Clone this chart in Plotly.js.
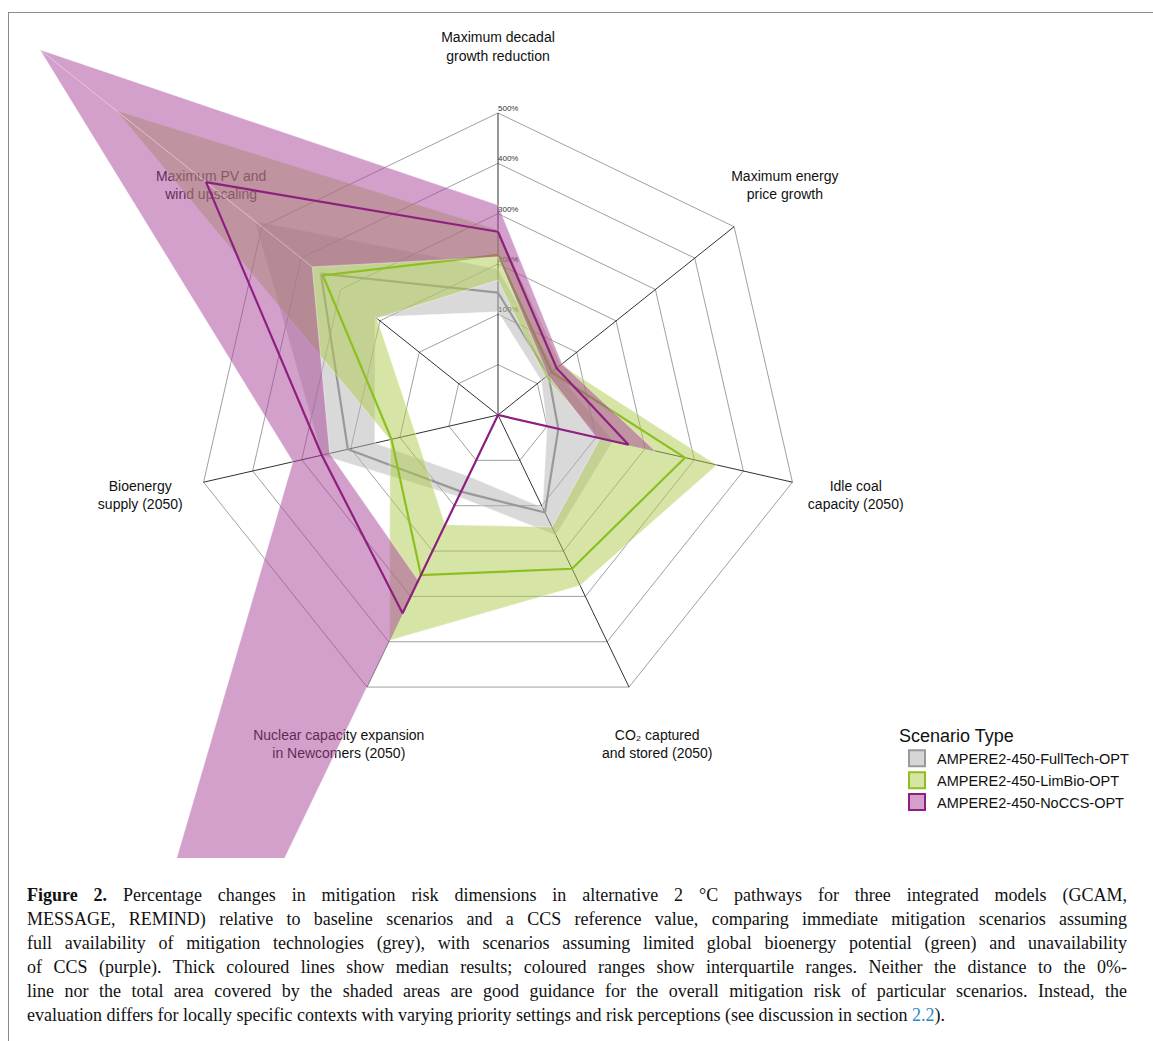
<!DOCTYPE html>
<html><head><meta charset="utf-8">
<script src="https://cdn.plot.ly/plotly-3.0.1.min.js"></script>
<style>
html,body{margin:0;padding:0;background:#fff;width:1153px;height:1041px;overflow:hidden;}
#frame{position:absolute;left:8px;top:12px;width:1170px;height:1060px;border-top:1px solid #8c8c8c;border-left:1px solid #8c8c8c;}
#clip{position:absolute;left:9px;top:13px;width:1144px;height:845px;overflow:hidden;}
#plot{position:absolute;}
#caption{position:absolute;left:27px;top:883px;width:1100px;font-family:"Liberation Serif","Times New Roman",serif;font-size:18px;line-height:24px;color:#111;}
.cl{white-space:nowrap;text-align:justify;text-align-last:justify;}
.cl.last{text-align-last:left;}
#caption a{color:#2a8ad0;text-decoration:none;}
</style></head>
<body>
<div id="frame"></div>
<div id="clip"><div id="plot"></div></div>
<div id="caption">
<div class="cl"><b>Figure 2.</b> Percentage changes in mitigation risk dimensions in alternative 2 °C pathways for three integrated models (GCAM,</div>
<div class="cl">MESSAGE, REMIND) relative to baseline scenarios and a CCS reference value, comparing immediate mitigation scenarios assuming</div>
<div class="cl">full availability of mitigation technologies (grey), with scenarios assuming limited global bioenergy potential (green) and unavailability</div>
<div class="cl">of CCS (purple). Thick coloured lines show median results; coloured ranges show interquartile ranges. Neither the distance to the 0%-</div>
<div class="cl">line nor the total area covered by the shaded areas are good guidance for the overall mitigation risk of particular scenarios. Instead, the</div>
<div class="cl last">evaluation differs for locally specific contexts with varying priority settings and risk perceptions (see discussion in section <a>2.2</a>).</div>
</div>
<script>
// ---- data ----
const categories = ["Maximum decadal growth reduction", "Maximum energy price growth", "Idle coal capacity (2050)",
  "CO2 captured and stored (2050)", "Nuclear capacity expansion in Newcomers (2050)", "Bioenergy supply (2050)",
  "Maximum PV and wind upscaling"];
const axisLabels = ["Maximum decadal<br>growth reduction", "Maximum energy<br>price growth", "Idle coal<br>capacity (2050)",
  "CO₂ captured<br>and stored (2050)", "Nuclear capacity expansion<br>in Newcomers (2050)", "Bioenergy<br>supply (2050)",
  "Maximum PV and<br>wind upscaling"];
const gridRings = [0, 100, 200, 300, 400, 500];
const tickLabels = ["0%", "100%", "200%", "300%", "400%", "500%"];
const scenarioNames = ["AMPERE2-450-FullTech-OPT", "AMPERE2-450-LimBio-OPT", "AMPERE2-450-NoCCS-OPT"];

const fullTechMedian = [143, 28, 23, 115, 69, 206, 350];
const fullTechQ25    = [105, 10, 0, 104, 35, 151, 212];
const fullTechQ75    = [190, 45, 134, 165, 80, 259, 518];

const limBioMedian = [218, 36.5, 281, 239, 253, 117, 345];
const limBioQ25    = [168, 20, 108, 147, 142, 68, 208];
const limBioQ75    = [268, 60, 346, 276, 397, 120, 870];

const noCCSMedian = [264, 49, 166, -100, 337, 259, 642];
const noCCSQ25    = [214, 27, 100, -100, 265, 243, 372];
const noCCSQ75    = [317, 63, 220, -100, 2141, 318, 1064];

// ---- geometry / style ----
const R_MIN = -100, R_MAX = 2300, PX_PER_PCT = 0.5033, LABEL_R = 629;
const CX = 489, CY = 402;          // centre inside the clip box
const RPX = (R_MAX - R_MIN) * PX_PER_PCT;
const SIZE = Math.round(2 * RPX);
const plotEl = document.getElementById('plot');
plotEl.style.left = (CX - SIZE / 2) + 'px';
plotEl.style.top = (CY - SIZE / 2) + 'px';
function pageToPaper(px, py) {
  const dx = px - 9 - (CX - SIZE / 2), dy = py - 13 - (CY - SIZE / 2);
  return [dx / SIZE, 1 - dy / SIZE];
}
const FONT = "Liberation Sans, Arial, Helvetica, sans-serif";
const styles = [
  {fill: 'rgba(179,179,179,0.5)', line: '#999999', swatch: '#d6d6d6', lw: 2.2},
  {fill: 'rgba(173,203,77,0.5)', line: '#8cbf1f', swatch: '#d6e5a6', lw: 2.2},
  {fill: 'rgba(167,65,151,0.5)', line: '#8e1f80', swatch: '#d3a0cb', lw: 2.2}
];
const series = [
  {median: fullTechMedian, q25: fullTechQ25, q75: fullTechQ75},
  {median: limBioMedian, q25: limBioQ25, q75: limBioQ75},
  {median: noCCSMedian, q25: noCCSQ25, q75: noCCSQ75}
];

const traces = [];
// axis labels (drawn first so fills cover them)
traces.push({type: 'scatterpolar', mode: 'text', r: categories.map(() => LABEL_R), theta: categories,
  text: axisLabels, textposition: 'middle center', textfont: {size: 14, color: '#111', family: FONT},
  hoverinfo: 'skip', showlegend: false});
// radial tick labels along the first axis
traces.push({type: 'scatterpolar', mode: 'text', r: gridRings, theta: gridRings.map(() => categories[0]),
  text: tickLabels, textposition: 'top right', textfont: {size: 8, color: '#333', family: FONT},
  hoverinfo: 'skip', showlegend: false});
// rings
gridRings.forEach(v => {
  traces.push({type: 'scatterpolar', mode: 'lines', r: categories.concat([categories[0]]).map(() => v),
    theta: categories.concat([categories[0]]), line: {color: '#777777', width: 0.7},
    hoverinfo: 'skip', showlegend: false});
});
// spokes
const spR = [], spT = [];
categories.forEach(c => { spR.push(R_MIN, gridRings[gridRings.length - 1], null); spT.push(c, c, c); });
traces.push({type: 'scatterpolar', mode: 'lines', r: spR, theta: spT, connectgaps: false,
  line: {color: '#1a1a1a', width: 0.9}, hoverinfo: 'skip', showlegend: false});

// ribbons + medians (seam along the last axis)
const seamOrder = [6, 0, 1, 2, 3, 4, 5, 6];
series.forEach((s, k) => {
  const rev = seamOrder.slice().reverse();
  traces.push({type: 'scatterpolar', mode: 'lines', fill: 'toself', fillcolor: styles[k].fill,
    r: seamOrder.map(i => s.q75[i]).concat(rev.map(i => s.q25[i])),
    theta: seamOrder.map(i => categories[i]).concat(rev.map(i => categories[i])),
    line: {color: 'rgba(255,255,255,0.5)', width: 0.8}, hoverinfo: 'skip', showlegend: false});
  traces.push({type: 'scatterpolar', mode: 'lines',
    r: s.median.concat([s.median[0]]), theta: categories.concat([categories[0]]),
    line: {color: styles[k].line, width: styles[k].lw}, hoverinfo: 'skip', showlegend: false});
});
// legend entries
scenarioNames.forEach((n, k) => {
  traces.push({type: 'scatterpolar', mode: 'markers', name: n, r: [null], theta: [categories[0]],
    marker: {symbol: 'square', size: 16, color: styles[k].swatch, line: {color: styles[k].line, width: 2}},
    hoverinfo: 'skip', showlegend: true});
});

const lp = pageToPaper(897, 719);
const layout = {
  width: SIZE, height: SIZE, margin: {l: 0, r: 0, t: 0, b: 0, pad: 0},
  paper_bgcolor: 'rgba(0,0,0,0)', font: {family: FONT, color: '#111'},
  showlegend: true,
  legend: {x: lp[0], y: lp[1], xanchor: 'left', yanchor: 'top', bgcolor: 'rgba(0,0,0,0)',
    title: {text: 'Scenario Type', font: {size: 18, family: FONT, color: '#111'}},
    font: {size: 14.5, family: FONT, color: '#111'}, tracegroupgap: 0, itemwidth: 30},
  polar: {domain: {x: [0, 1], y: [0, 1]}, bgcolor: 'rgba(0,0,0,0)', gridshape: 'linear', hole: 0,
    radialaxis: {range: [R_MIN, R_MAX], visible: false, showgrid: false, showline: false},
    angularaxis: {type: 'category', categoryorder: 'array', categoryarray: categories,
      rotation: 90, direction: 'clockwise', visible: false, showgrid: false, showline: false}}
};
Plotly.newPlot(plotEl, traces, layout, {staticPlot: true, displayModeBar: false});
</script>
</body></html>
